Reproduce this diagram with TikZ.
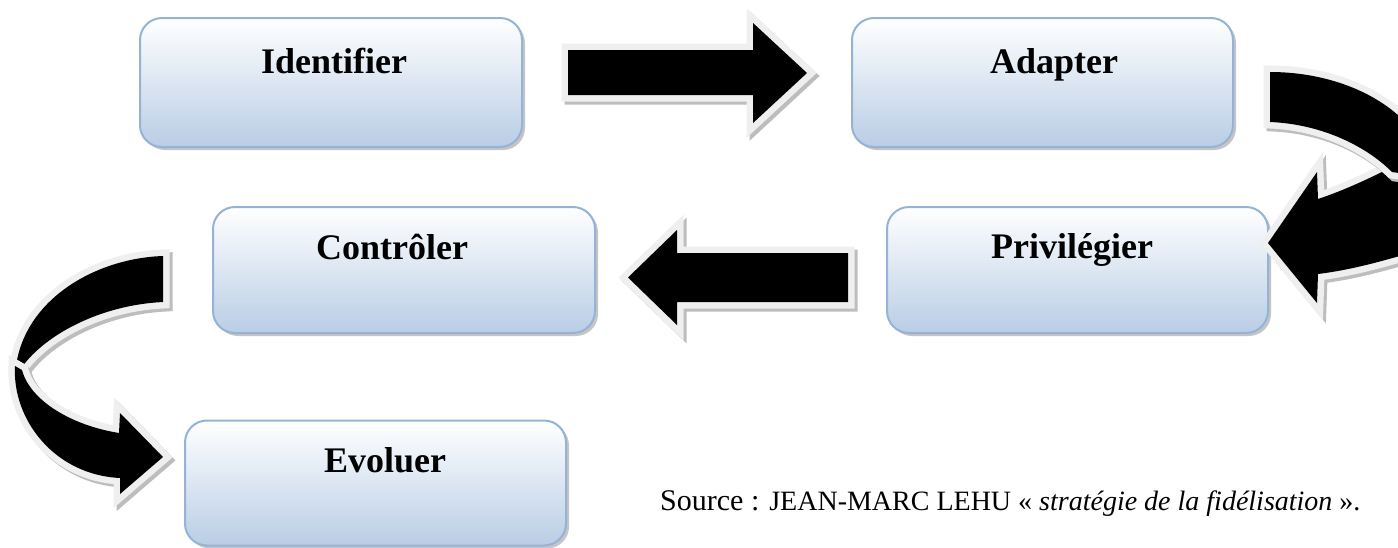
\documentclass[tikz,border=0pt]{standalone}
\usepackage{fontspec}
\setmainfont{Liberation Serif}
\usetikzlibrary{shadows}
\definecolor{boxline}{HTML}{95B3D7}
\definecolor{boxbot}{HTML}{B9CDE5}
\definecolor{glow}{HTML}{EFEFEF}
\definecolor{shade}{HTML}{BDBDBD}
\tikzset{
  stepbox/.style={draw=boxline, line width=2pt, rounded corners=22pt,
    top color=white, bottom color=boxbot,
    drop shadow={shadow xshift=3pt, shadow yshift=-3pt, fill=black!45},
    inner sep=0pt},
  boxtext/.style={font=\bfseries\fontsize{36}{40}\selectfont, anchor=base, inner sep=0pt},
  arrshadow/.style={draw=shade, fill=shade, line width=13pt, line join=miter, shift={(3,3)}},
  arrglow/.style={draw=glow, line width=13pt, line join=miter},
  arrbody/.style={fill=black},
}
\def\arrowone{(568,50) -- (753,50) -- (753,23) -- (807,73) -- (753,123) -- (753,95) -- (568,95) -- cycle}
\def\arrowtwo{(848,253) -- (677,253) -- (677,230) -- (628,277.5) -- (677,325) -- (677,302) -- (848,302) -- cycle}
\def\lback{(163,256) .. controls (100,258) and (30,295) .. (17,360) -- (22,367) .. controls (45,335) and (100,305) .. (163,302) -- cycle}
\def\lfront{(15,366) .. controls (12,420) and (55,475) .. (120,478) -- (120,494) -- (163,457) -- (120,413) -- (119,433) .. controls (70,425) and (30,400) .. (22,370) -- cycle}
\def\rlower{(1318,199) .. controls (1345,190) and (1370,178) .. (1390,168) -- (1420,165) -- (1420,250) .. controls (1380,262) and (1350,270) .. (1318,274) -- (1317,303) -- (1268,243) -- (1317,172) -- cycle}
\def\rupper{(1270,72) .. controls (1330,72) and (1390,95) .. (1420,140) -- (1420,176) -- (1392,172) .. controls (1365,145) and (1320,124) .. (1270,122) -- cycle}
\begin{document}
\begin{tikzpicture}[x=1pt, y=-1pt]
\useasboundingbox (0,0) rectangle (1398,547);
\clip (0,0) rectangle (1398,547);
\fill[white] (0,0) rectangle (1398,547);

% boxes
\node[stepbox, minimum width=382pt, minimum height=129pt] (identifier) at (331,82.5) {};
\node[stepbox, minimum width=381pt, minimum height=129pt] (adapter) at (1042.5,82.5) {};
\node[stepbox, minimum width=382pt, minimum height=126pt] (controler) at (404,270) {};
\node[stepbox, minimum width=381pt, minimum height=126pt] (privilegier) at (1077.5,270) {};
\node[stepbox, minimum width=381pt, minimum height=125pt] (evoluer) at (375.5,483) {};

\node[boxtext] (t1) at (334,73) {Identifier};
\node[boxtext] (t2) at (1054,73) {Adapter};
\node[boxtext] (t3) at (392,259) {Contrôler};
\node[boxtext] (t4) at (1072,258) {Privilégier};
\node[boxtext] (t5) at (385,472) {Evoluer};

% straight arrows
\draw[arrshadow] \arrowone;
\draw[arrglow] \arrowone;
\fill[arrbody] \arrowone;
\draw[arrshadow] \arrowtwo;
\draw[arrglow] \arrowtwo;
\fill[arrbody] \arrowtwo;

% left curved arrow
\draw[arrshadow] \lback;
\draw[arrglow] \lback;
\fill[arrbody] \lback;
\draw[arrshadow] \lfront;
\draw[arrglow] \lfront;
\fill[arrbody] \lfront;

% right curved arrow
\draw[arrshadow] \rlower;
\draw[arrglow] \rlower;
\fill[arrbody] \rlower;
\draw[arrshadow] \rupper;
\draw[arrglow] \rupper;
\fill[arrbody] \rupper;

\node[anchor=base west, inner sep=0pt] (source) at (660,510)
  {\fontsize{30}{34}\selectfont Source : \fontsize{28}{32}\selectfont JEAN-MARC LEHU « \textit{stratégie de la fidélisation} ».};
\end{tikzpicture}
\end{document}
